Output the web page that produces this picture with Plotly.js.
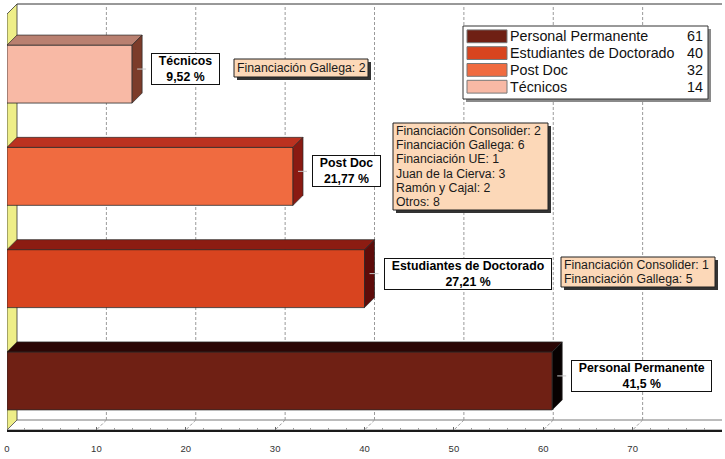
<!DOCTYPE html>
<html>
<head>
<meta charset="utf-8">
<script src="https://cdn.plot.ly/plotly-3.0.1.min.js"></script>
<style>
  html, body { margin: 0; padding: 0; background: #fff; }
  #chart { width: 725px; height: 459px; }
</style>
</head>
<body>
<div id="chart"></div>
<script>
// ---- data ----
const categories = ['Personal Permanente', 'Estudiantes de Doctorado', 'Post Doc', 'Técnicos'];
const counts = [61, 40, 32, 14];
const fundingNotes = [
  [],
  ['Financiación Consolider: 1', 'Financiación Gallega: 5'],
  ['Financiación Consolider: 2', 'Financiación Gallega: 6', 'Financiación UE: 1',
   'Juan de la Cierva: 3', 'Ramón y Cajal: 2', 'Otros: 8'],
  ['Financiación Gallega: 2']
];
const xTicks = [0, 10, 20, 30, 40, 50, 60, 70];

// ---- styling ----
const frontColors = ['#6f2014', '#d8441f', '#f06b40', '#f8b9a5'];
const topColors   = ['#2b0605', '#8c1c12', '#bb3220', '#b98070'];
const sideColors  = ['#070101', '#5e0c0a', '#8a1a12', '#7c3c2a'];
const FONT = 'Liberation Sans, Arial, sans-serif';

const W = 725, H = 459;
const M = { l: 7, r: 3, t: 4, b: 29 };
const plotW = W - M.l - M.r, plotH = H - M.t - M.b;
const xRange = [0, 80];
const yRange = [-0.48, 3.685];
const pxX = plotW / (xRange[1] - xRange[0]);
const pxY = plotH / (yRange[1] - yRange[0]);
const DEPTH = 10;                 // 3D depth offset in pixels
const dx = DEPTH / pxX, dy = DEPTH / pxY;
const barW = 0.567;
const yb = yRange[0], yTop = yRange[1];

// pixel -> paper helpers (legend and note boxes)
const pX = px => (px - M.l) / plotW;
const pY = py => (H - M.b - py) / plotH;

const total = counts.reduce((a, b) => a + b, 0);
const pctText = v => {
  let s = (v / total * 100).toFixed(2).replace(/0+$/, '').replace(/\.$/, '');
  return s.replace('.', ',') + ' %';
};

// ---- traces ----
const ys = categories.map((_, i) => i);
const traces = [];

// front faces
traces.push({
  type: 'bar', orientation: 'h', y: ys, x: counts, base: 0, width: barW,
  marker: { color: frontColors, line: { color: '#2a2a2a', width: 0.8 } },
  hoverinfo: 'skip', showlegend: false
});

// top and side faces for the 3D look
counts.forEach((v, i) => {
  const y0 = i - barW / 2, y1 = i + barW / 2;
  traces.push({
    type: 'scatter', mode: 'lines', fill: 'toself', fillcolor: topColors[i],
    x: [0, v, v + dx, dx, 0], y: [y1, y1, y1 + dy, y1 + dy, y1],
    line: { color: '#2a2a2a', width: 0.7 }, hoverinfo: 'skip', showlegend: false
  });
  traces.push({
    type: 'scatter', mode: 'lines', fill: 'toself', fillcolor: sideColors[i],
    x: [v, v + dx, v + dx, v, v], y: [y0, y0 + dy, y1 + dy, y1, y0],
    line: { color: '#2a2a2a', width: 0.7 }, hoverinfo: 'skip', showlegend: false
  });
});

// ---- shapes: walls, floor, grid ----
const shapes = [];
// left (yellow) wall
shapes.push({
  type: 'path', xref: 'x', yref: 'y', layer: 'below',
  path: `M 0 ${yb} L ${dx} ${yb + dy} L ${dx} ${yTop} L 0 ${yTop - dy} Z`,
  fillcolor: '#eeee88', line: { color: '#333', width: 0.8 }
});
// floor
shapes.push({
  type: 'path', xref: 'x', yref: 'y', layer: 'below',
  path: `M 0 ${yb} L ${xRange[1]} ${yb} L ${xRange[1] + dx} ${yb + dy} L ${dx} ${yb + dy} Z`,
  fillcolor: '#ffffff', line: { color: '#555', width: 0.8 }
});
// back wall top edge
shapes.push({
  type: 'line', xref: 'x', yref: 'paper', layer: 'below',
  x0: dx, x1: xRange[1] + dx, y0: 1, y1: 1,
  line: { color: '#333', width: 1 }
});
// grid lines on back wall and floor
xTicks.filter(t => t > 0).forEach(t => {
  shapes.push({
    type: 'line', xref: 'x', yref: 'y', layer: 'below',
    x0: t + dx, x1: t + dx, y0: yb + dy, y1: yTop,
    line: { color: '#9a9a9a', width: 1, dash: '3px,2px' }
  });
  shapes.push({
    type: 'line', xref: 'x', yref: 'y', layer: 'below',
    x0: t + dx, x1: t, y0: yb + dy, y1: yb,
    line: { color: '#9a9a9a', width: 1, dash: '3px,2px' }
  });
});
// connectors from bars to their labels
counts.forEach((v, i) => {
  shapes.push({
    type: 'line', xref: 'x', yref: 'y',
    x0: v + dx / 2, x1: v + dx + 4 / pxX, y0: i + dy / 2, y1: i + dy / 2,
    line: { color: '#c8c8c8', width: 1 }
  });
});

// ---- annotations ----
const annotations = [];
const nb = '\u00a0';
counts.forEach((v, i) => {
  annotations.push({
    xref: 'x', yref: 'y', x: v, y: i + dy / 2, xanchor: 'left', yanchor: 'middle',
    xshift: DEPTH + 9, showarrow: false,
    text: `<b>${nb}${nb}${categories[i]}${nb}${nb}</b><br><b>${pctText(v)}</b>`,
    font: { family: FONT, size: 12.3, color: '#000' },
    bgcolor: '#ffffff', bordercolor: '#111', borderwidth: 1, borderpad: 0, align: 'center'
  });
});

// funding notes: peach boxes with a drop shadow, one text row per line
const noteBox = [
  null,
  { l: 561, r: 715, t: 257, b: 287 },
  { l: 393, r: 548, t: 123, b: 210 },
  { l: 234, r: 368, t: 59, b: 77 }
];
const NOTE_LINE = 14.2;
fundingNotes.forEach((lines, i) => {
  if (!lines.length) return;
  const bx = noteBox[i];
  shapes.push({
    type: 'rect', xref: 'paper', yref: 'paper',
    x0: pX(bx.l + 3), x1: pX(bx.r + 3), y0: pY(bx.b + 3), y1: pY(bx.t + 3),
    fillcolor: '#333333', line: { width: 0 }
  });
  shapes.push({
    type: 'rect', xref: 'paper', yref: 'paper',
    x0: pX(bx.l), x1: pX(bx.r), y0: pY(bx.b), y1: pY(bx.t),
    fillcolor: '#fcd8b8', line: { color: '#222', width: 1 }
  });
  const mid = (bx.t + bx.b) / 2;
  lines.forEach((line, k) => {
    const cy = mid + (k - (lines.length - 1) / 2) * NOTE_LINE;
    annotations.push({
      xref: 'paper', yref: 'paper', x: pX(bx.l + 1), y: pY(cy),
      xanchor: 'left', yanchor: 'middle', showarrow: false, text: line,
      font: { family: FONT, size: 12.3, color: '#1a1a1a' }
    });
  });
});

// legend box
const LG = { x0: 463, x1: 708, y0: 26, y1: 99, rowY0: 36.3, rowStep: 16.8 };
shapes.push({
  type: 'rect', xref: 'paper', yref: 'paper',
  x0: pX(LG.x0 + 3), x1: pX(LG.x1 + 3), y0: pY(LG.y1 + 3), y1: pY(LG.y0 + 3),
  fillcolor: '#8a8a8a', line: { width: 0 }
});
shapes.push({
  type: 'rect', xref: 'paper', yref: 'paper',
  x0: pX(LG.x0), x1: pX(LG.x1), y0: pY(LG.y1), y1: pY(LG.y0),
  fillcolor: '#ffffff', line: { color: '#333', width: 1 }
});
categories.forEach((name, i) => {
  const cy = LG.rowY0 + i * LG.rowStep;
  shapes.push({
    type: 'rect', xref: 'paper', yref: 'paper',
    x0: pX(467), x1: pX(507), y0: pY(cy + 6.4), y1: pY(cy - 6.4),
    fillcolor: frontColors[i], line: { color: '#777', width: 1 }
  });
  annotations.push({
    xref: 'paper', yref: 'paper', x: pX(508), y: pY(cy), xanchor: 'left', yanchor: 'middle',
    showarrow: false, text: name, font: { family: FONT, size: 14.3, color: '#111' }
  });
  annotations.push({
    xref: 'paper', yref: 'paper', x: pX(705), y: pY(cy), xanchor: 'right', yanchor: 'middle',
    showarrow: false, text: String(counts[i]), font: { family: FONT, size: 14.3, color: '#111' }
  });
});

const layout = {
  width: W, height: H,
  margin: M,
  paper_bgcolor: '#ffffff', plot_bgcolor: '#ffffff',
  showlegend: false,
  barmode: 'overlay',
  xaxis: {
    range: xRange, fixedrange: true,
    tickvals: xTicks, ticktext: xTicks.map(String),
    showgrid: false, zeroline: false,
    showline: true, linecolor: '#1a1a1a', linewidth: 2,
    ticks: 'inside', ticklen: 3, tickcolor: '#666',
    ticklabelstandoff: 9,
    minor: { dtick: 2, ticks: 'inside', ticklen: 2, tickcolor: '#999' },
    tickfont: { family: 'Liberation Sans Narrow, Liberation Sans, Arial', size: 9.5, color: '#333' }
  },
  yaxis: { range: yRange, visible: false, fixedrange: true },
  shapes, annotations
};

Plotly.newPlot('chart', traces, layout, { staticPlot: true, displayModeBar: false });
</script>
</body>
</html>
